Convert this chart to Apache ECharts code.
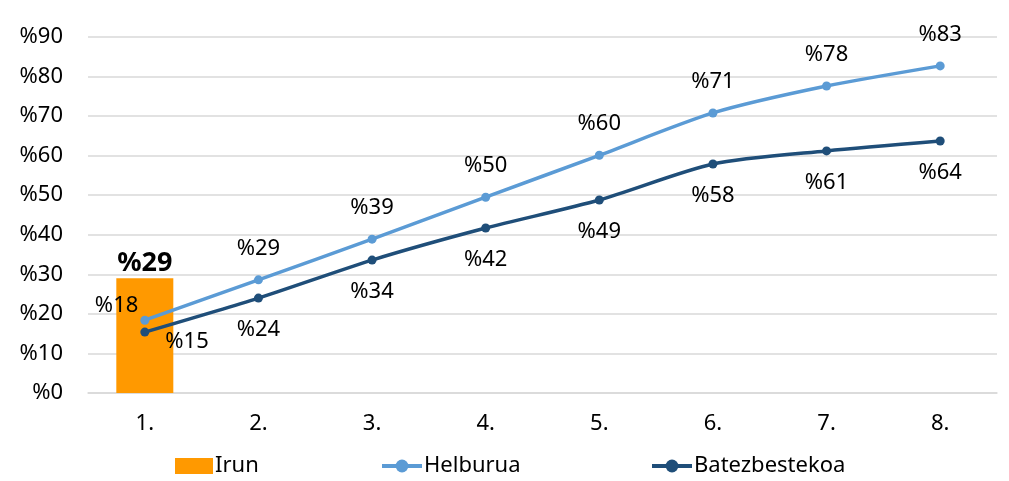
<!DOCTYPE html>
<html><head><meta charset="utf-8">
<script src="https://cdn.jsdelivr.net/npm/echarts@6/dist/echarts.min.js"></script>
<style>html,body{margin:0;padding:0;background:#fff}#c{width:1009px;height:481px}</style>
</head><body><div id="c"></div>
<script>
var categories = ['1.', '2.', '3.', '4.', '5.', '6.', '7.', '8.'];
var irun = [29, null, null, null, null, null, null, null];
var helburua = [18, 29, 39, 50, 60, 71, 78, 83];
var helburuaPlot = [18.4, 28.6, 38.9, 49.5, 60.1, 70.8, 77.6, 82.7];
var batez = [15, 24, 34, 42, 49, 58, 61, 64];
var batezPlot = [15.4, 24, 33.6, 41.7, 48.8, 57.9, 61.2, 63.7];

var FONT = '"Noto Sans", sans-serif';
var chart = echarts.init(document.getElementById('c'));

function mk(plot, shown, firstLabel) {
  return plot.map(function (v, i) {
    var item = { value: v, shown: shown[i] };
    if (i === 0) item.label = firstLabel;
    return item;
  });
}
function leg(name, left, extra) {
  var o = {
    bottom: 4, left: left, padding: 0, itemWidth: 38, itemHeight: 16, itemGap: 0,
    textStyle: { fontFamily: FONT, fontSize: 22, color: '#000', padding: [0, 0, 0, -3] },
    data: [name]
  };
  for (var k in extra) o[k] = extra[k];
  return o;
}

chart.setOption({
  animation: false,
  textStyle: { fontFamily: FONT },
  grid: { left: 88, right: 12, top: 37, bottom: 88, containLabel: false },
  legend: [
    leg('Irun', 175, { icon: 'rect' }),
    leg('Helburua', 380, { itemWidth: 40, lineStyle: { width: 4 } }),
    leg('Batezbestekoa', 650, { itemWidth: 40, lineStyle: { width: 4 } })
  ],
  xAxis: {
    type: 'category', data: categories,
    axisLine: { show: true, lineStyle: { color: '#D9D9D9', width: 1.5 } },
    axisTick: { show: false },
    axisLabel: { color: '#000', fontSize: 22, fontFamily: FONT, margin: 20 }
  },
  yAxis: {
    type: 'value', min: 0, max: 90, interval: 10,
    axisLine: { show: false }, axisTick: { show: false },
    splitLine: { lineStyle: { color: '#D9D9D9', width: 1.5 } },
    axisLabel: { color: '#000', fontSize: 22, fontFamily: FONT, margin: 25,
      formatter: function (v) { return '%' + v; } }
  },
  series: [
    {
      name: 'Irun', type: 'bar', data: irun, barWidth: 57,
      itemStyle: { color: '#FF9900' },
      label: { show: true, position: 'top', distance: 1, color: '#000', fontSize: 27,
        fontWeight: 'bold', fontFamily: FONT, formatter: function (p) { return '%' + p.value; } }
    },
    {
      name: 'Helburua', type: 'line', smooth: 0.25, data: mk(helburuaPlot, helburua,
        { position: 'left', distance: 2, offset: [0, -14] }),
      symbol: 'circle', symbolSize: 9,
      lineStyle: { color: '#5B9BD5', width: 3.5 }, itemStyle: { color: '#5B9BD5' },
      label: { show: true, position: 'top', distance: 16, color: '#000', fontSize: 22, fontFamily: FONT,
        formatter: function (p) { return '%' + p.data.shown; } }
    },
    {
      name: 'Batezbestekoa', type: 'line', smooth: 0.25, data: mk(batezPlot, batez,
        { position: 'right', distance: 16, offset: [0, 10] }),
      symbol: 'circle', symbolSize: 9,
      lineStyle: { color: '#1F4E79', width: 3.5 }, itemStyle: { color: '#1F4E79' },
      label: { show: true, position: 'bottom', distance: 16, color: '#000', fontSize: 22, fontFamily: FONT,
        formatter: function (p) { return '%' + p.data.shown; } }
    }
  ]
});
</script>
</body></html>
